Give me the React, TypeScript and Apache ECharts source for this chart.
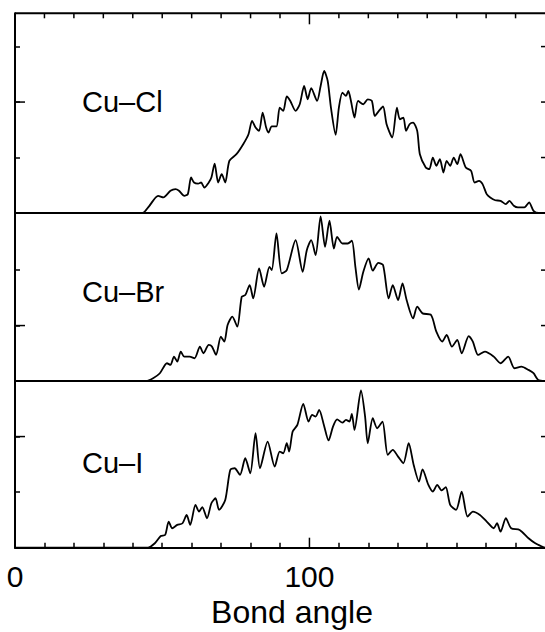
import React, { useEffect, useRef } from "react";
import * as echarts from "echarts";

// ---- Data ----
const panelLabels = ["Cu–Cl", "Cu–Br", "Cu–I"];
const xTickLabels = [0, 100];
const xTitle = "Bond angle";

const clAngles = [0, 43.3, 45.5, 48.6, 50.4, 52.8, 54.5, 55.7, 57.5, 58.7, 59.8, 60.8, 62.2, 63.2, 64.3, 65.8, 66.7, 67.8, 69.0, 70.2, 71.4, 72.8, 75.2, 77.5, 79.3, 80.5, 81.7, 82.9, 84.1, 85.3, 86.1, 87.2, 88.8, 89.9, 91.1, 92.3, 93.5, 95.3, 96.7, 98.2, 99.4, 100.6, 102.6, 103.8, 105.0, 106.2, 107.3, 108.9, 110.0, 111.2, 112.4, 113.2, 114.1, 115.3, 116.5, 118.3, 119.8, 121.2, 122.2, 123.6, 125.0, 126.2, 128.1, 129.7, 130.7, 131.9, 132.8, 134.0, 135.2, 136.6, 137.5, 139.5, 140.7, 141.9, 143.1, 144.3, 145.5, 146.6, 147.8, 149.0, 150.2, 151.3, 153.1, 154.9, 156.1, 157.6, 158.8, 160.2, 161.4, 163.1, 164.9, 166.7, 167.9, 169.4, 170.8, 173.0, 174.6, 176.1, 177.9, 180];
const clValues = [0, 0, 0.12, 0.31, 0.28, 0.40, 0.43, 0.40, 0.31, 0.34, 0.64, 0.55, 0.53, 0.55, 0.46, 0.55, 0.64, 0.89, 0.55, 0.70, 0.55, 0.94, 1.06, 1.24, 1.42, 1.66, 1.54, 1.48, 1.81, 1.54, 1.45, 1.56, 1.56, 1.90, 1.84, 2.10, 2.02, 1.84, 1.96, 2.29, 2.05, 2.25, 2.02, 2.29, 2.56, 2.38, 1.90, 1.41, 1.90, 2.17, 2.11, 2.20, 2.02, 1.72, 2.02, 1.96, 2.05, 2.02, 1.75, 1.84, 1.92, 1.60, 1.36, 1.90, 1.69, 1.72, 1.48, 1.60, 1.63, 1.48, 1.06, 0.82, 0.79, 1.00, 0.85, 0.97, 0.73, 0.94, 0.85, 1.00, 0.88, 1.06, 0.82, 0.76, 0.55, 0.58, 0.52, 0.34, 0.28, 0.23, 0.22, 0.16, 0.22, 0.13, 0.10, 0.10, 0.19, 0.04, 0, 0];

const brAngles = [0, 44.5, 46.9, 49.2, 51.6, 52.8, 54.0, 55.1, 56.3, 57.5, 59.3, 61.0, 62.8, 64.0, 65.8, 66.9, 68.3, 69.9, 71.1, 72.2, 73.8, 75.5, 77.0, 78.2, 79.7, 80.9, 82.9, 84.6, 86.4, 87.2, 88.8, 90.6, 92.3, 95.3, 97.7, 99.1, 100.6, 102.1, 103.8, 105.3, 106.8, 108.3, 109.4, 111.2, 113.0, 114.4, 115.6, 116.8, 118.3, 120.1, 121.5, 123.4, 125.0, 126.9, 128.3, 130.1, 131.6, 133.0, 135.2, 136.6, 138.4, 141.3, 143.1, 145.1, 146.6, 148.4, 150.2, 151.7, 154.1, 155.5, 157.3, 159.6, 162.6, 164.9, 167.5, 169.6, 172.0, 174.4, 176.1, 177.7, 180];
const brValues = [0, 0, 0.05, 0.14, 0.32, 0.29, 0.44, 0.35, 0.53, 0.44, 0.44, 0.41, 0.62, 0.50, 0.65, 0.62, 0.47, 0.80, 0.71, 1.01, 1.16, 0.98, 1.52, 1.55, 1.73, 1.49, 2.03, 1.70, 2.06, 2.00, 2.66, 1.94, 2.00, 2.54, 1.97, 2.36, 2.54, 2.27, 2.97, 2.42, 2.89, 2.39, 2.60, 2.48, 2.48, 2.53, 2.06, 1.65, 1.97, 2.21, 1.99, 2.13, 2.09, 1.49, 1.73, 1.46, 1.76, 1.46, 1.13, 1.34, 1.22, 1.19, 0.89, 0.71, 0.83, 0.62, 0.74, 0.50, 0.81, 0.71, 0.47, 0.53, 0.44, 0.32, 0.44, 0.23, 0.26, 0.20, 0.14, 0.02, 0];

const iAngles = [0, 45.1, 47.5, 49.5, 51.0, 52.2, 53.4, 55.1, 56.9, 58.3, 59.5, 61.3, 62.5, 63.6, 65.2, 66.7, 68.1, 69.3, 71.4, 73.1, 74.6, 76.4, 78.2, 79.9, 81.7, 83.2, 85.8, 88.2, 89.9, 91.1, 92.3, 93.1, 94.3, 95.9, 97.9, 99.7, 100.9, 102.1, 103.3, 104.9, 106.5, 108.0, 109.4, 111.2, 112.4, 113.6, 114.4, 115.3, 117.5, 118.9, 119.8, 121.5, 123.0, 124.8, 126.6, 128.3, 130.1, 131.9, 133.7, 135.4, 137.2, 138.4, 140.4, 141.9, 143.4, 144.9, 146.3, 147.8, 149.8, 151.7, 153.7, 155.5, 157.9, 160.2, 162.6, 163.7, 164.9, 166.7, 168.5, 171.4, 174.4, 176.7, 179.0, 180];
const iValues = [0, 0, 0.08, 0.21, 0.23, 0.47, 0.35, 0.41, 0.44, 0.59, 0.41, 0.77, 0.65, 0.73, 0.53, 0.80, 0.89, 0.68, 0.86, 1.40, 1.43, 1.31, 1.61, 1.34, 2.06, 1.43, 1.91, 1.46, 1.73, 1.70, 1.88, 1.73, 2.09, 2.21, 2.59, 2.27, 2.39, 2.36, 2.48, 2.21, 1.93, 2.18, 2.31, 2.25, 2.30, 2.27, 2.41, 2.12, 2.83, 2.36, 1.88, 2.33, 2.15, 2.27, 1.67, 1.76, 1.64, 1.52, 1.88, 1.49, 1.19, 1.41, 1.13, 1.01, 1.13, 1.03, 1.09, 0.77, 0.68, 1.01, 0.56, 0.65, 0.59, 0.47, 0.35, 0.44, 0.29, 0.53, 0.35, 0.32, 0.17, 0.08, 0.02, 0];

// tick values per panel
const yTicks = [[1, 2, 3], [1, 2], [1, 2]];
const leftLongTicks = [[2], [1], [2]];
const yMax = [3.6, 3.03, 3.0];
const shortXTicks = [10, 20, 30, 40, 50, 60, 70, 80, 90, 110, 120, 130, 140, 150, 160, 170];
const longXTicks = [100];

const FONT = '"Liberation Sans", Arial, Helvetica, sans-serif';
const BLACK = "#000";

const zip = (xs: number[], ys: number[]) => xs.map((x, i) => [x, ys[i]]);
const panelData = [zip(clAngles, clValues), zip(brAngles, brValues), zip(iAngles, iValues)];

const lineOf = (show: boolean) => ({ show, onZero: false, lineStyle: { color: BLACK, width: 2 } });

const tick = (values: number[], length: number) => ({
  show: true,
  inside: true,
  length,
  customValues: values,
  lineStyle: { color: BLACK, width: 1.5 },
});

export default function App() {
  const ref = useRef<HTMLDivElement>(null);

  useEffect(() => {
    if (!ref.current) return;
    const chart = echarts.init(ref.current, null, { renderer: "svg" });

    const plotLeft = 15;
    const plotWidth = 530;
    const tops = [13.3, 213, 381];
    const heights = [199.7, 168, 166.7];

    const grids = [0, 1, 2].map((p) => ({ left: plotLeft, width: plotWidth, top: tops[p], height: heights[p] }));
    const xAxes = [0, 1, 2].map((p) => ({
      type: "value",
      gridIndex: p,
      position: "bottom",
      min: 0,
      max: 180,
      axisLine: lineOf(true),
      axisTick: p === 2 ? tick(shortXTicks, 5) : { show: false },
      axisLabel: p === 2
        ? { show: true, customValues: xTickLabels, fontSize: 30, color: BLACK, fontFamily: FONT, margin: 14 }
        : { show: false },
      splitLine: { show: false },
    }));
    const yAxes = [0, 1, 2].map((p) => ({
      type: "value",
      gridIndex: p,
      position: "left",
      min: 0,
      max: yMax[p],
      axisLine: lineOf(true),
      axisTick: tick(yTicks[p], 5),
      axisLabel: { show: false },
      splitLine: { show: false },
    }));
    const series = [0, 1, 2].map((p) => ({
      type: "line",
      name: panelLabels[p],
      data: panelData[p],
      xAxisIndex: p,
      yAxisIndex: p,
      showSymbol: false,
      symbol: "none",
      smooth: 0.25,
      clip: true,
      lineStyle: { color: BLACK, width: 1.8 },
    }));

    const texts: any[] = [
      { type: "text", left: 82, top: 104.5 - 17, style: { text: panelLabels[0], fontSize: 29, fill: BLACK, fontFamily: FONT } },
      { type: "text", left: 82, top: 294 - 17, style: { text: panelLabels[1], fontSize: 29, fill: BLACK, fontFamily: FONT } },
      { type: "text", left: 82, top: 465.5 - 17, style: { text: panelLabels[2], fontSize: 29, fill: BLACK, fontFamily: FONT } },
      { type: "text", x: 292, y: 596, style: { text: xTitle, fontSize: 32, fill: BLACK, fontFamily: FONT, textAlign: "center", textVerticalAlign: "top" } },
    ];

    chart.setOption({
      animation: false,
      backgroundColor: "#fff",
      textStyle: { fontFamily: FONT },
      grid: grids,
      xAxis: xAxes,
      yAxis: yAxes,
      series,
      graphic: texts,
    } as any);

    // frame (top border, top/right ticks, long ticks) placed through the axes' own scales
    try {
      const px = (gi: number, v: number[]) => chart.convertToPixel({ gridIndex: gi } as any, v) as unknown as number[];
      const seg = (a: number[], b: number[], w: number) => ({
        type: "line",
        silent: true,
        z: 10,
        shape: { x1: a[0], y1: a[1], x2: b[0], y2: b[1] },
        style: { stroke: BLACK, lineWidth: w },
      });
      const frame: any[] = [];
      frame.push(seg(px(0, [0, yMax[0]]), px(0, [180, yMax[0]]), 2));
      shortXTicks.forEach((v) => {
        const a = px(0, [v, yMax[0]]);
        frame.push(seg(a, [a[0], a[1] + 5], 1.5));
      });
      longXTicks.forEach((v) => {
        const a = px(0, [v, yMax[0]]);
        frame.push(seg(a, [a[0], a[1] + 11], 1.5));
        const b = px(2, [v, 0]);
        frame.push(seg(b, [b[0], b[1] - 10], 1.5));
      });
      for (let p = 0; p < 3; p++) {
        yTicks[p].forEach((v) => {
          const a = px(p, [180, v]);
          frame.push(seg([a[0] - 4, a[1]], a, 1.5));
        });
        leftLongTicks[p].forEach((v) => {
          const a = px(p, [0, v]);
          frame.push(seg(a, [a[0] + 10, a[1]], 1.5));
        });
      }
      if (frame.every((f) => isFinite(f.shape.x1) && isFinite(f.shape.y1))) {
        chart.setOption({ graphic: [...texts, ...frame] } as any);
      }
    } catch (e) {
      // keep the chart without the extra frame if conversion is unavailable
    }

    return () => chart.dispose();
  }, []);

  return (
    <div
      ref={ref}
      style={{ position: "absolute", left: 0, top: 0, width: 545, height: 632, background: "#fff" }}
    />
  );
}
